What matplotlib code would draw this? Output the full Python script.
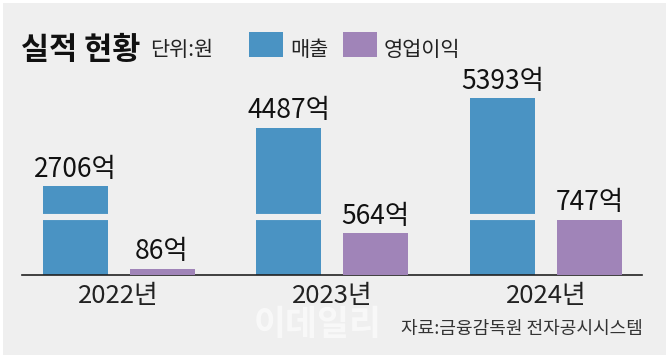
import matplotlib
matplotlib.use("Agg")
import matplotlib.pyplot as plt
from matplotlib import font_manager
import matplotlib.patches as patch
import numpy as np

years = ["2022년", "2023년", "2024년"]
sales = [2706, 4487, 5393]
op_profit = [86, 564, 747]
sales_labels = ["2706억", "4487억", "5393억"]
profit_labels = ["86억", "564억", "747억"]
legend_names = ["매출", "영업이익"]

BG = "#efefef"
BLUE = "#4a93c3"
PURPLE = "#a084b8"
W, H = 670, 363

installed = {f.name for f in font_manager.fontManager.ttflist}
if "Liberation Sans Narrow" in installed:
    NUM_FONT = ["Liberation Sans Narrow", "Noto Sans CJK KR"]
else:
    NUM_FONT = ["Noto Sans CJK KR", "DejaVu Sans"]
KR_FONT = ["Noto Sans CJK KR", "DejaVu Sans"]
plt.rcParams["font.family"] = KR_FONT


def px(x, y):
    # pixel coords (top-left origin) -> figure fraction
    return x / W, (H - y) / H


fig = plt.figure(figsize=(W / 100, H / 100), dpi=100)
fig.patch.set_facecolor("white")

# grey panel as a background axes
bg = fig.add_axes([3 / W, (H - 355) / H, 663 / W, 352 / H])
bg.set_facecolor(BG)
bg.set_axis_off()
bg.add_patch(patch.Rectangle((0, 0), 1, 1, transform=bg.transAxes,
                             facecolor=BG, edgecolor="none"))
bg.set_zorder(0)

ax = fig.add_axes([22 / W, (H - 275) / H, 620 / W, 200 / H])
ax.set_facecolor("none")
ax.set_zorder(2)
ax2 = ax.twinx()
ax2.set_facecolor("none")
ax2.set_zorder(3)

x = np.arange(len(years))
bw = 0.304
off = 0.2035

ax.bar(x - off, sales, bw, color=BLUE, zorder=2)
ax2.bar(x + off, op_profit, bw, color=PURPLE, zorder=2)

# broken-axis gap across the sales bars
ax.hlines([1770] * len(x), x - off - bw / 2 - 0.01, x - off + bw / 2 + 0.01,
          color=BG, linewidth=4.4, zorder=3)

ax.set_ylim(0, 6100)
ax2.set_ylim(0, 2700)
ax.set_xlim(-0.4515, 2.449)

for a in (ax, ax2):
    for s in a.spines.values():
        s.set_visible(False)
    a.set_yticks([])
ax.spines["bottom"].set_visible(True)
ax.spines["bottom"].set_linewidth(1.2)
ax.spines["bottom"].set_color("#222222")

ax.set_xticks(x)
ax.set_xticklabels(years, family=NUM_FONT, fontsize=18.5, color="#222222")
ax.tick_params(axis="x", length=0, pad=6)

for xi, v, lab in zip(x, sales, sales_labels):
    ax.annotate(lab, (xi - off, v), xytext=(0, 2.5), textcoords="offset points",
                ha="center", va="bottom", family=NUM_FONT, fontsize=19,
                fontweight="medium", color="#111111")
for xi, v, lab in zip(x, op_profit, profit_labels):
    ax2.annotate(lab, (xi + off, v), xytext=(0, 2.5), textcoords="offset points",
                 ha="center", va="bottom", family=NUM_FONT, fontsize=19,
                 fontweight="medium", color="#111111")

# header
fig.text(*px(21, 59), "실적 현황", fontsize=22, fontweight="heavy", color="#111111")
fig.text(*px(150, 56), "단위:원", fontsize=15, color="#222222")
for (x0, name), c in zip([(249, legend_names[0]), (343, legend_names[1])], [BLUE, PURPLE]):
    fig.patches.append(
        patch.Rectangle(px(x0, 57), 34 / W, 25 / H, transform=fig.transFigure,
                        facecolor=c, edgecolor="none", zorder=5)
    )
    fig.text(*px(x0 + 41, 56), name, fontsize=15, color="#222222")

# watermark + source
fig.text(*px(318, 325), "이데일리", fontsize=25, fontweight="bold", color="white",
         alpha=0.6, ha="center", va="center", zorder=1)
fig.text(*px(643, 334), "자료:금융감독원 전자공시시스템", fontsize=13, color="#333333",
         ha="right", zorder=6)

fig.savefig("out.png", dpi=100, facecolor=fig.get_facecolor())
